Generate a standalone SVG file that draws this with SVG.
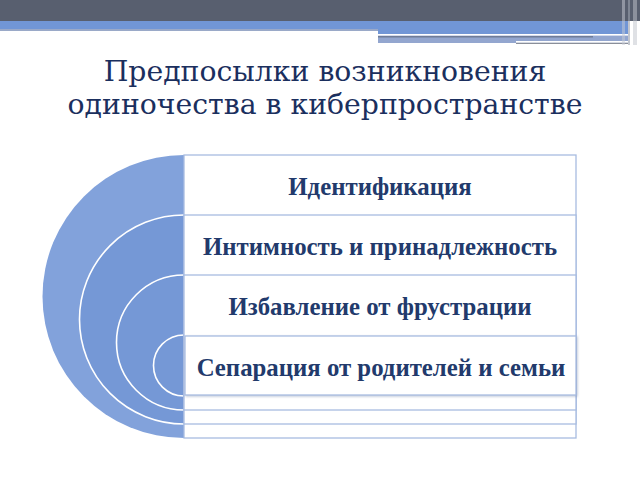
<svg xmlns="http://www.w3.org/2000/svg" width="640" height="480" viewBox="0 0 640 480">
<style>
.title{font-family:"DejaVu Serif","Liberation Serif",serif;font-size:28.3px;fill:#1b2f5e;text-anchor:middle}
.lbl{font-family:"Liberation Serif","Times New Roman",serif;font-weight:bold;font-size:24.8px;fill:#223a6c;text-anchor:middle}
.box{fill:#ffffff;stroke:#a8bce0;stroke-width:1.3}
.ring{fill:#7598d6;stroke:#ffffff;stroke-width:1.6}
</style>
<defs>
<filter id="sh" x="-5%" y="-10%" width="110%" height="130%">
<feDropShadow dx="1" dy="1" stdDeviation="1" flood-color="#8090b0" flood-opacity="0.5"/>
</filter>
</defs>
<rect width="640" height="480" fill="#ffffff"/>
<g id="header">
<rect x="0" y="0" width="640" height="21" fill="#585f6f"/>
<rect x="0" y="21" width="378" height="8" fill="#7196d6"/>
<rect x="0" y="29" width="378" height="2" fill="#9aa9c8"/>
<rect x="378" y="21" width="250" height="13" fill="#7196d6"/>
<rect x="378" y="34" width="215" height="1.6" fill="#ffffff"/>
<rect x="378" y="35.6" width="250" height="7.4" fill="#93a6cf"/>
<rect x="378" y="36" width="215" height="1.5" fill="#6f7c98"/>
<rect x="516" y="41" width="112" height="1.8" fill="#ffffff"/>
<rect x="516" y="42.8" width="112" height="1.2" fill="#8a8f9a"/>
<rect x="622" y="0" width="3" height="45" fill="#c8ccd6" opacity="0.5"/>
<rect x="628" y="0" width="2" height="45" fill="#9aa0ad" opacity="0.6"/>
<rect x="633" y="0" width="4" height="45" fill="#c0c4cc" opacity="0.5"/>
</g>
<g id="title">
<text class="title" x="325" y="81">Предпосылки возникновения</text>
<text class="title" x="325" y="114">одиночества в киберпространстве</text>
</g>
<g id="circles">
<circle cx="184" cy="296.5" r="141.5" fill="#82a2db"/>
<circle class="ring" cx="184" cy="319.5" r="104.5"/>
<circle class="ring" cx="184" cy="342.5" r="67.5"/>
<circle class="ring" cx="184" cy="365.5" r="30.5"/>
</g>
<g id="node1">
<rect class="box" x="184" y="155" width="392" height="283"/>
<text class="lbl" x="380" y="195">Идентификация</text>
</g>
<g id="node2">
<rect class="box" x="184" y="215" width="392" height="209"/>
<text class="lbl" x="380" y="255">Интимность и принадлежность</text>
</g>
<g id="node3">
<rect class="box" x="184" y="275" width="392" height="135"/>
<text class="lbl" x="380" y="315">Избавление от фрустрации</text>
</g>
<g id="node4">
<rect class="box" x="185" y="336" width="391" height="59" filter="url(#sh)"/>
<text class="lbl" x="381" y="376">Сепарация от родителей и семьи</text>
</g>
</svg>
